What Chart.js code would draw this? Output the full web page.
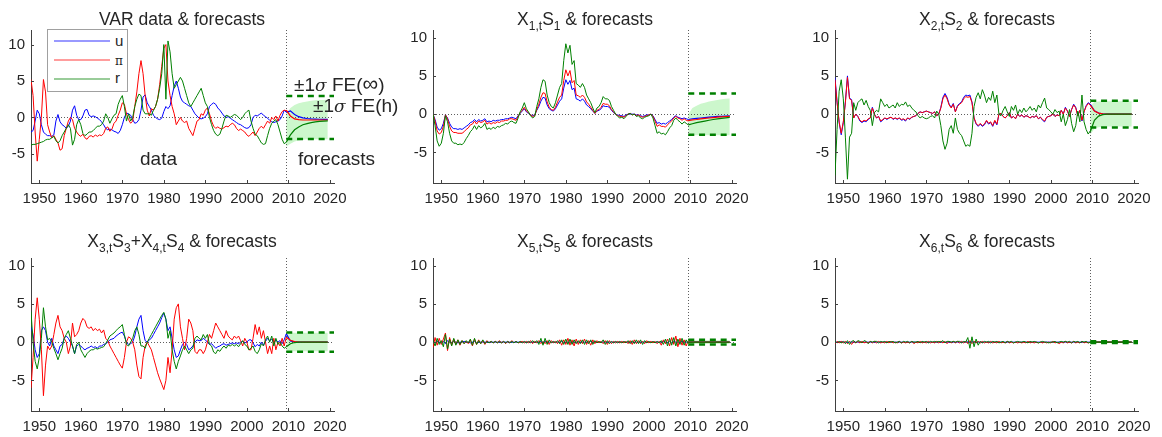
<!DOCTYPE html>
<html>
<head>
<meta charset="utf-8">
<script src="https://cdn.jsdelivr.net/npm/chart.js@4.4.1/dist/chart.umd.min.js"></script>
<style>
  html, body { margin: 0; padding: 0; background: #fff; }
  body { width: 1162px; height: 437px; position: relative; overflow: hidden; font-family: "Liberation Sans", Arial, sans-serif; color: #262626; }
  canvas { position: absolute; }
  .ttl { position: absolute; font-size: 17.5px; line-height: 20px; white-space: nowrap; transform: translateX(-50%); z-index: 5; }
  .ttl sub { font-size: 12px; vertical-align: -5px; line-height: 0; }
  .note { position: absolute; font-size: 19px; line-height: 22px; white-space: nowrap; z-index: 5; }
  .note i { font-family: "DejaVu Serif", serif; font-size: 17px; }
  .note .inf { font-size: 22px; }
  #legend { position: absolute; left: 47px; top: 29px; width: 79px; height: 61px; border: 1px solid #a0a0a0; background: #fff; z-index: 6; }
  #legend .ln { position: absolute; left: 6px; width: 56px; height: 0; border-top: 2px solid; }
  #legend .lb { position: absolute; left: 67px; font-size: 15px; line-height: 18px; }
</style>
</head>
<body>

<div class="ttl" style="left:182px; top:9px">VAR data &amp; forecasts</div>
<div class="ttl" style="left:585px; top:9px">X<sub>1,t</sub>S<sub>1</sub> &amp; forecasts</div>
<div class="ttl" style="left:987px; top:9px">X<sub>2,t</sub>S<sub>2</sub> &amp; forecasts</div>
<div class="ttl" style="left:182px; top:231px">X<sub>3,t</sub>S<sub>3</sub>+X<sub>4,t</sub>S<sub>4</sub> &amp; forecasts</div>
<div class="ttl" style="left:585px; top:231px">X<sub>5,t</sub>S<sub>5</sub> &amp; forecasts</div>
<div class="ttl" style="left:987px; top:231px">X<sub>6,t</sub>S<sub>6</sub> &amp; forecasts</div>

<div class="note" style="left:140px; top:148px">data</div>
<div class="note" style="left:298px; top:148px">forecasts</div>
<div class="note" style="left:294px; top:73px">±1<i>σ</i> FE(<span class="inf">∞</span>)</div>
<div class="note" style="left:313px; top:95px">±1<i>σ</i> FE(h)</div>

<div id="legend">
  <div class="ln" style="top:10px; border-color:#9999ff"></div><div class="lb" style="top:2px">u</div>
  <div class="ln" style="top:29px; border-color:#ff9d9d"></div><div class="lb" style="top:22px; font-family:'DejaVu Serif',serif; font-size:12px">π</div>
  <div class="ln" style="top:48px; border-color:#99cc99"></div><div class="lb" style="top:39px">r</div>
</div>

<script>
// time axis: half-yearly data 1948.0 .. 2009.5, yearly forecasts 2009.5 .. 2019.5
const tData = [];
for (let k = 0; k < 124; k++) tData.push(1948 + k / 2);
const tFc = [];
for (let k = 0; k < 11; k++) tFc.push(2009.5 + k);

const xMin = 1948, xMax = 2021;
const xTicks = [1950, 1960, 1970, 1980, 1990, 2000, 2010, 2020];
const yTicks = [-5, 0, 5, 10];

// ---- panel 1: VAR data
const u1 = [
  -2.0, -1.8, -0.5, 1.0, 0.5, -1.0, -2.0, -2.3, -2.5, -2.5,
  -2.6, -2.4, -0.5, 0.4, -0.6, -1.0, -1.2, -1.5, -1.2, -0.5,
  1.0, 1.6, 0.3, -0.3, -0.3, 0.2, 1.0, 1.1, 0.3, 0.1,
  0.2, 0.1, -0.1, -0.3, -0.6, -1.0, -1.5, -1.7, -1.6, -1.7,
  -1.9, -2.0, -2.2, -1.8, -1.0, 0.0, 0.6, 0.5, 0.3, -0.3,
  -0.8, -0.7, -0.3, 1.0, 2.8, 3.1, 2.0, 1.5, 1.0, 0.3,
  0.0, -0.2, -0.3, -0.1, 0.8, 1.5, 1.2, 1.6, 3.0, 4.3,
  5.0, 4.0, 2.8, 2.2, 2.0, 1.8, 1.6, 1.5, 1.0, 0.5,
  0.2, -0.1, -0.2, -0.1, 0.1, 0.5, 1.5, 1.8, 2.0, 1.8,
  1.3, 1.0, 0.6, 0.2, 0.0, 0.1, -0.1, -0.3, -0.5, -0.7,
  -0.9, -1.0, -1.2, -1.4, -1.5, -1.4, -1.0, 0.0, 0.3, 0.2,
  0.4, 0.6, 0.3, 0.1, -0.1, -0.4, -0.6, -0.7, -0.6, -0.5,
  -0.3, 0.2, 1.0, 0.7
];
const pi1 = [
  5.2, 3.0, -2.0, -6.0, -3.0, 0.0, 5.2, 3.5, -1.0, -2.0,
  -2.8, -2.5, -3.0, -3.5, -4.5, -4.3, -2.5, -1.5, -0.5, 0.0,
  -0.3, -1.5, -2.0, -2.4, -2.6, -2.3, -2.8, -3.0, -2.6, -2.5,
  -2.7, -2.4, -2.6, -2.4, -2.5, -2.2, -1.5, -1.3, -1.9, -1.6,
  -0.8, -0.5, 0.3, 1.0, 2.0, 1.8, 0.5, -0.3, -0.8, -0.5,
  1.5, 3.5, 6.0, 7.8, 6.0, 3.0, 1.0, 0.2, 1.2, 1.0,
  1.5, 2.5, 4.5, 7.0, 9.5, 10.0, 5.0, 3.0, 1.5, 0.5,
  -1.0, -0.5, 0.0, -0.5, -0.7, -0.5, -1.5, -2.0, -2.5, -1.5,
  -0.5, -0.3, 0.5, 0.3, 1.0, 1.3, 0.5, -0.5, -1.2, -1.5,
  -1.3, -1.5, -1.6, -1.4, -1.2, -1.3, -1.0, -0.8, -1.0, -1.5,
  -1.8, -1.6, -1.8, -2.0, -2.4, -2.6, -2.3, -2.0, -2.5, -2.0,
  -1.5, -1.2, -1.5, -1.0, -0.5, -0.8, 0.0, -0.3, 0.2, -0.5,
  0.3, 0.8, 1.0, 0.9
];
const r1 = [
  -3.8, -3.7, -3.7, -3.6, -3.5, -3.4, -3.3, -3.1, -3.0, -3.0,
  -2.8, -2.6, -3.2, -3.5, -3.2, -2.5, -2.0, -1.5, -1.0, -1.5,
  -3.8, -3.0, -1.0, -0.3, -1.0, -2.2, -2.5, -2.3, -2.0, -2.0,
  -1.8, -1.5, -1.2, -1.2, -1.0, -0.5, 0.5, 0.0, -0.8, -0.2,
  0.3, 0.5, 1.8, 2.5, 3.0, 1.5, -0.5, 0.5, -0.5, 0.0,
  1.5, 2.5, 3.2, 3.0, 1.0, 0.5, 0.5, 0.5, 0.3, 1.0,
  1.5, 2.5, 4.0, 6.0, 10.0, 2.5, 10.5, 9.0, 6.0, 4.0,
  4.5, 5.0, 5.5, 5.0, 4.0, 3.0, 2.0, 1.5, 2.0, 2.5,
  3.0, 3.5, 4.0, 3.0, 2.0, 1.5, 0.0, -1.0, -1.8, -2.3,
  -2.5, -2.3, -1.5, -0.5, 0.3, 0.2, 0.0, 0.2, 0.4, 0.3,
  0.0, -0.3, 0.0, 0.5, 0.8, 1.0, -0.5, -1.5, -2.3, -2.5,
  -3.0, -3.5, -3.7, -3.6, -2.5, -1.5, -0.8, -0.5, -0.3, -1.0,
  -2.0, -3.0, -3.6, -3.4
];
const u1f  = [0.7, 0.9, 0.4, 0.1, -0.05, -0.15, -0.2, -0.22, -0.25, -0.27, -0.27];
const pi1f = [1.0, 0.2, -0.2, -0.3, -0.35, -0.35, -0.35, -0.35, -0.35, -0.35, -0.35];
const r1f  = [-3.4, -2.4, -1.7, -1.3, -1.0, -0.85, -0.72, -0.62, -0.55, -0.5, -0.47];
const hi1  = [0.5, 1.3, 1.7, 1.95, 2.1, 2.2, 2.3, 2.35, 2.4, 2.4, 2.45];
const lo1  = [-4.0, -3.6, -3.3, -3.15, -3.05, -3.0, -3.0, -3.0, -3.0, -3.0, -3.0];

// ---- panel 2: X1,t S1
const u2 = [
  0.0, -0.7, -1.7, -2.1, -1.9, -1.2, -0.1, -0.5, -1.2, -1.7,
  -1.9, -1.9, -2.0, -1.9, -2.0, -1.8, -1.6, -1.4, -1.1, -1.0,
  -0.7, -1.0, -0.7, -0.9, -0.8, -0.6, -1.0, -0.9, -1.0, -0.8,
  -0.9, -0.8, -0.8, -0.7, -0.7, -0.6, -0.6, -0.5, -0.4, -0.5,
  -0.6, -0.2, 0.1, 0.4, 0.7, 0.3, 0.1, -0.1, -0.2, -0.1,
  0.5, 1.0, 1.7, 2.2, 2.1, 1.2, 0.7, 0.5, 0.4, 0.7,
  1.2, 1.7, 2.0, 3.4, 4.5, 3.9, 4.4, 3.2, 3.4, 2.0,
  1.9, 1.7, 2.0, 1.7, 1.2, 1.0, 0.7, 0.4, 0.1, 0.4,
  0.5, 0.7, 1.1, 1.0, 1.0, 0.9, 0.5, 0.2, 0.0, -0.1,
  -0.2, -0.2, -0.3, -0.1, 0.0, 0.0, 0.0, 0.0, -0.1, -0.1,
  -0.2, -0.3, -0.2, -0.1, -0.1, 0.0, -0.2, -0.7, -1.2, -1.1,
  -1.3, -1.2, -1.3, -1.1, -0.9, -0.7, -0.4, -0.2, -0.4, -0.5,
  -0.6, -0.5, -0.6, -0.7
];
const pi2 = [
  0.0, -0.9, -2.2, -2.6, -2.4, -1.6, -0.1, -0.6, -1.6, -2.2,
  -2.4, -2.4, -2.5, -2.5, -2.5, -2.3, -2.0, -1.8, -1.4, -1.3,
  -0.9, -1.3, -0.9, -1.1, -1.0, -0.8, -1.3, -1.1, -1.3, -1.1,
  -1.2, -1.0, -1.1, -0.9, -0.9, -0.8, -0.8, -0.6, -0.6, -0.7,
  -0.8, -0.3, 0.2, 0.5, 0.9, 0.4, 0.2, -0.1, -0.3, -0.2,
  0.6, 1.3, 2.2, 2.8, 2.7, 1.6, 0.9, 0.6, 0.5, 0.9,
  1.6, 2.2, 2.5, 4.4, 5.8, 5.0, 5.7, 4.1, 4.4, 2.5,
  2.4, 2.2, 2.5, 2.2, 1.6, 1.3, 0.9, 0.5, 0.1, 0.5,
  0.6, 0.9, 1.4, 1.3, 1.3, 1.1, 0.6, 0.3, 0.0, -0.2,
  -0.3, -0.3, -0.4, -0.2, 0.0, 0.1, -0.1, 0.0, -0.2, -0.1,
  -0.3, -0.4, -0.3, -0.2, -0.1, 0.0, -0.3, -0.9, -1.6, -1.4,
  -1.6, -1.6, -1.7, -1.4, -1.1, -0.9, -0.5, -0.3, -0.5, -0.6,
  -0.8, -0.6, -0.8, -0.9
];
const r2 = [
  0.0, -1.5, -3.5, -4.2, -3.8, -2.5, -0.2, -1.0, -2.5, -3.5,
  -3.8, -3.8, -4.0, -3.9, -4.0, -3.7, -3.2, -2.8, -2.3, -2.0,
  -1.5, -2.0, -1.5, -1.8, -1.6, -1.2, -2.0, -1.8, -2.0, -1.7,
  -1.9, -1.6, -1.7, -1.5, -1.4, -1.2, -1.3, -1.0, -0.9, -1.1,
  -1.2, -0.5, 0.3, 0.8, 1.5, 0.7, 0.3, -0.2, -0.5, -0.3,
  1.0, 2.0, 3.5, 4.5, 4.3, 2.5, 1.5, 1.0, 0.8, 1.5,
  2.5, 3.5, 4.0, 7.0, 9.2, 8.0, 9.0, 6.5, 7.0, 4.0,
  3.8, 3.5, 4.0, 3.5, 2.5, 2.0, 1.5, 0.8, 0.2, 0.8,
  1.0, 1.5, 2.3, 2.0, 2.0, 1.8, 1.0, 0.5, 0.0, -0.3,
  -0.5, -0.4, -0.6, -0.3, 0.0, 0.1, -0.1, 0.0, -0.3, -0.2,
  -0.5, -0.6, -0.4, -0.3, -0.2, 0.0, -0.5, -1.5, -2.5, -2.3,
  -2.6, -2.5, -2.7, -2.3, -1.8, -1.5, -0.8, -0.5, -0.8, -1.0,
  -1.3, -1.0, -1.2, -1.4
];
const u2f  = [-0.7, -0.6, -0.55, -0.5, -0.45, -0.4, -0.35, -0.3, -0.28, -0.25, -0.22];
const pi2f = [-0.85, -0.75, -0.7, -0.62, -0.55, -0.5, -0.45, -0.4, -0.36, -0.32, -0.28];
const r2f  = [-1.4, -1.25, -1.1, -1.0, -0.9, -0.8, -0.7, -0.62, -0.55, -0.48, -0.42];
const hi2  = [0.0, 0.8, 1.1, 1.35, 1.5, 1.65, 1.75, 1.85, 1.95, 2.0, 2.05];
const lo2  = [-2.75, -2.75, -2.75, -2.75, -2.75, -2.75, -2.75, -2.75, -2.75, -2.75, -2.75];

// ---- panel 3: X2,t S2
const u3 = [
  4.8, 1.6, -1.1, -2.7, -1.1, 1.6, 5.0, 2.1, 1.9, -0.5,
  0.0, -0.3, -0.9, -1.1, -0.9, -1.0, -0.7, -0.5, 0.9, 0.0,
  -0.5, -0.3, -1.0, -0.8, -0.5, -0.7, -0.5, -0.4, -0.7, -0.5,
  -0.7, -0.5, -0.8, -0.7, -0.9, -0.5, -0.7, -0.4, -0.3, -0.2,
  0.1, 0.3, 0.2, 0.3, 0.4, 0.3, 0.2, 0.1, 0.3, -0.2,
  0.0, 0.9, 2.2, 2.7, 2.2, 1.3, 0.9, 1.4, 0.3, 1.1,
  1.4, 1.6, 2.2, 2.5, 2.4, 2.5, 1.6, -0.5, -1.3, -1.6,
  -1.3, -1.6, -1.4, -0.9, -1.3, -1.1, -1.6, -0.9, -1.4, 0.0,
  0.1, -0.3, -0.5, -0.2, 0.2, -0.5, -0.3, -0.6, 0.0, -0.3,
  -0.1, -0.4, -0.2, -0.3, -0.5, -0.3, -0.4, -0.2, -0.6, -0.4,
  -0.8, -1.0, -0.4, -0.3, -0.2, 0.0, -0.3, -0.1, -0.2, 0.5,
  0.0, 0.9, 0.4, -0.3, 0.6, 1.3, 0.9, -0.2, 0.5, -0.9,
  0.3, 1.1, 1.5, 1.3
];
const pi3 = [
  4.5, 1.5, -1.0, -2.5, -1.0, 1.5, 4.8, 2.0, 1.8, -0.5,
  0.0, -0.3, -0.8, -1.0, -0.8, -0.9, -0.6, -0.5, 0.8, 0.0,
  -0.5, -0.3, -0.9, -0.7, -0.5, -0.6, -0.5, -0.4, -0.6, -0.5,
  -0.6, -0.5, -0.7, -0.6, -0.8, -0.5, -0.6, -0.4, -0.3, -0.2,
  0.1, 0.3, 0.2, 0.3, 0.4, 0.3, 0.2, 0.1, 0.3, -0.2,
  0.0, 0.8, 2.0, 2.5, 2.0, 1.2, 0.8, 1.3, 0.3, 1.0,
  1.3, 1.5, 2.0, 2.3, 2.2, 2.3, 1.5, -0.5, -1.2, -1.5,
  -1.2, -1.5, -1.3, -0.8, -1.2, -1.0, -1.5, -0.8, -1.3, 0.0,
  0.1, -0.3, -0.5, -0.2, 0.2, -0.5, -0.3, -0.6, 0.0, -0.3,
  -0.1, -0.4, -0.2, -0.3, -0.5, -0.3, -0.4, -0.2, -0.6, -0.4,
  -0.7, -0.9, -0.4, -0.3, -0.2, 0.0, -0.3, -0.1, -0.2, 0.5,
  0.0, 0.8, 0.4, -0.3, 0.6, 1.2, 0.8, -0.2, 0.5, -0.8,
  0.3, 1.0, 1.4, 1.2
];
const r3 = [
  -8.0, -2.0, 3.0, 4.5, 2.0, -3.0, -8.5, -3.0, -2.5, 1.5,
  0.5, 1.5, 1.8, 2.0, 1.2, 1.8, 1.0, 0.5, -1.5, 0.2,
  0.5, 0.3, 2.0, 1.5, 1.0, 1.3, 0.8, 1.0, 1.2, 0.8,
  1.5, 1.0, 1.3, 1.2, 1.6, 1.0, 1.2, 0.8, 0.5, 0.3,
  -0.2, -0.5, -0.3, -0.5, -0.6, -0.5, -0.3, -0.2, -0.5, 0.4,
  0.0, -1.5, -3.5, -4.6, -3.8, -2.0, -1.5, -2.5, -0.5, -2.0,
  -2.5, -2.8, -3.5, -4.2, -4.0, -4.2, -2.5, 1.0, 2.2, 2.8,
  2.0, 3.2, 2.5, 1.5, 2.2, 1.8, 3.0, 1.5, 2.5, 0.0,
  -0.2, 0.5, 1.0, 0.3, -0.3, 1.0, 0.5, 1.2, 0.0, 0.6,
  0.2, 0.8, 0.3, 0.6, 1.0, 0.5, 0.8, 0.3, 1.2, 0.8,
  1.5, 2.1, 0.8, 0.6, 0.3, 0.0, 0.6, 0.2, 0.4, -1.0,
  0.0, -1.5, -0.7, 0.6, -1.2, -2.3, -1.5, 0.4, -1.0, 2.5,
  -1.0, -2.0, -2.6, -2.2
];
const u3f  = [1.3, 0.45, 0.15, 0.04, 0.0, 0.0, 0.0, 0.0, 0.0, 0.0, 0.0];
const pi3f = [1.2, 0.42, 0.14, 0.04, 0.0, 0.0, 0.0, 0.0, 0.0, 0.0, 0.0];
const r3f  = [-2.3, -0.8, -0.25, -0.07, 0.0, 0.0, 0.0, 0.0, 0.0, 0.0, 0.0];
const hi3  = [1.0, 1.6, 1.65, 1.68, 1.7, 1.7, 1.7, 1.7, 1.7, 1.7, 1.7];
const lo3  = [-2.7, -1.9, -1.7, -1.65, -1.62, -1.62, -1.62, -1.62, -1.62, -1.62, -1.62];

// ---- panel 4: X3,t S3 + X4,t S4
const u4 = [
  2.0, 1.0, -1.0, -2.0, -1.5, 1.5, 2.0, 1.5, 0.0, -0.5,
  0.5, -0.5, -1.0, -1.5, -0.5, -0.3, 0.5, 0.8, 0.5, 0.0,
  -0.5, -1.5, -0.5, -0.3, -0.5, -0.8, -1.0, -0.8, -0.7, -0.5,
  -0.7, -0.6, -0.8, -0.5, -0.5, -0.3, -0.2, 0.0, 0.3, 0.4,
  0.5, 0.8, 1.0, 1.2, 1.3, 0.8, 0.0, -0.3, -0.2, 0.0,
  0.8, 2.0, 3.0, 3.5, 1.5, 0.2, 0.0, 0.3, 0.5, 1.0,
  1.5, 2.0, 2.5, 3.2, 3.8, 3.0, 1.5, 2.0, 0.5, -1.0,
  -2.0, -1.8, -1.0, -0.3, 0.0, -0.3, -1.0, -0.8, -0.5, 0.0,
  0.3, 0.2, 0.2, 0.5, 0.3, 0.0, -0.3, -0.2, -0.5, -0.8,
  -0.6, -0.5, -0.3, -0.2, -0.4, -0.3, -0.2, -0.1, -0.2, -0.1,
  -0.2, 0.0, 0.1, -0.1, 0.0, 0.3, 0.3, -0.1, -0.6, -0.3,
  -0.5, 0.0, -0.4, 0.1, 0.5, 0.2, 0.4, -0.1, 0.3, 0.0,
  0.2, -0.2, 0.3, 1.1
];
const pi4 = [
  -6.0, -2.0, 3.0, 5.8, 3.0, -1.0, -7.0, -3.0, -0.5, -1.0,
  -0.5, 1.0, 2.5, 3.5, 2.0, 1.5, 0.5, 0.0, -1.5, -0.5,
  2.5, 0.7, 1.0, 1.5, 2.5, 3.1, 2.8, 2.0, 1.8, 2.0,
  1.5, 1.8, 1.5, 1.7, 1.2, 1.6, 0.5, 0.2, -0.5, -1.0,
  -1.5, -2.0, -2.5, -3.0, -3.4, -2.0, 0.0, 0.7, 0.5, 0.0,
  -1.0, -3.0, -4.5, -4.8, -2.0, -0.5, 0.0, -0.5, -1.0, -2.0,
  -3.0, -4.0, -4.8, -5.5, -6.2, -5.0, -2.0, -4.0, -1.0, 3.0,
  4.5, 5.0, 2.0, 0.5, -1.0, 0.5, 3.0, 2.5, 1.5, -1.2,
  -1.5, -1.0, -1.0, -1.5, -1.0, 0.0, 1.0, 0.5, 1.5, 2.5,
  2.0, 1.5, 1.0, 0.5, 1.5, 0.8, 0.5, 0.3, 0.8, 0.5,
  0.8, 0.2, -0.5, 0.5, 0.0, -1.0, -1.0, 0.5, 2.3, 1.0,
  2.0, 0.5, 1.5, 0.0, -1.5, -0.5, -1.5, 0.5, -1.0, 0.0,
  -0.5, 0.5, -0.5, 0.65
];
const r4 = [
  4.0, 0.0, -2.5, -3.5, -2.0, 0.5, 4.5, 2.0, 0.3, 0.5,
  0.0, -0.8, -1.5, -2.3, -1.5, -0.8, 0.5, 1.0, 1.5, 0.5,
  -0.5, -1.5, -0.3, 0.0, -1.0, -1.5, -2.0, -1.5, -1.2, -1.0,
  -1.0, -0.8, -0.9, -0.8, -0.7, -0.6, -0.2, 0.3, 0.8, 1.0,
  1.2, 1.5, 1.8, 2.0, 2.3, 1.0, -0.3, -0.5, 0.0, 0.5,
  1.5, 2.0, 1.0, -0.5, -0.5, -0.8, 0.0, 0.5, 1.0, 1.5,
  2.0, 2.5, 3.0, 3.5, 3.9, 3.0, 0.5, 1.5, -1.0, -2.5,
  -3.5, -2.5, -1.8, -1.0, -0.5, -1.0, -1.5, -1.0, -0.8, 0.5,
  0.8, 0.5, 0.3, 1.0, 0.5, 1.0, -0.3, -0.5, -1.3, -1.5,
  -1.0, -1.2, -0.8, -0.5, -0.8, -0.4, -0.5, -0.3, -0.5, -0.3,
  -0.6, -0.2, 0.2, -0.3, -0.5, -1.0, -0.8, -0.5, -1.2, -1.5,
  -1.0, -0.2, -0.5, 0.3, 0.8, 0.0, 0.8, -0.5, 0.5, -0.3,
  0.0, -0.5, -0.8, -0.6
];
const u4f  = [1.1, 0.15, 0.03, 0.0, 0.0, 0.0, 0.0, 0.0, 0.0, 0.0, 0.0];
const pi4f = [0.65, 0.25, 0.08, 0.02, 0.0, 0.0, 0.0, 0.0, 0.0, 0.0, 0.0];
const r4f  = [-0.6, -0.2, -0.05, 0.0, 0.0, 0.0, 0.0, 0.0, 0.0, 0.0, 0.0];
const hi4  = [1.22, 1.22, 1.22, 1.22, 1.22, 1.22, 1.22, 1.22, 1.22, 1.22, 1.22];
const lo4  = [-1.2, -1.2, -1.2, -1.2, -1.2, -1.2, -1.2, -1.2, -1.2, -1.2, -1.2];

// ---- panel 5: X5,t S5
const u5 = [
  0.1, -0.1, 0.1, 0.0, -0.1, 0.1, -0.2, 0.2, 0.0, -0.1,
  0.1, 0.0, -0.1, 0.0, 0.0, 0.1, 0.0, 0.0, -0.1, 0.0,
  0.1, -0.1, 0.0, 0.0, 0.0, 0.0, 0.0, 0.0, 0.0, 0.0,
  0.0, 0.0, 0.0, 0.0, 0.0, 0.0, 0.0, 0.0, 0.0, 0.0,
  0.0, 0.0, 0.0, 0.0, 0.0, 0.0, 0.0, 0.0, 0.0, 0.0,
  0.0, 0.0, 0.1, -0.1, 0.1, -0.1, 0.0, 0.0, 0.0, 0.0,
  0.0, 0.0, 0.1, -0.1, 0.0, 0.0, 0.0, 0.0, 0.0, 0.0,
  0.0, 0.0, 0.0, 0.0, 0.0, 0.0, 0.1, 0.0, 0.0, 0.0,
  0.0, 0.0, 0.0, 0.0, 0.0, 0.0, 0.0, 0.0, 0.0, 0.0,
  0.0, 0.0, 0.0, 0.0, 0.0, 0.0, 0.0, 0.0, 0.0, 0.0,
  0.0, 0.0, 0.0, 0.0, 0.0, 0.0, 0.0, 0.0, 0.0, 0.0,
  0.0, 0.1, 0.0, -0.1, 0.1, -0.1, 0.1, 0.0, 0.0, 0.0,
  0.1, 0.0, 0.0, 0.0
];
const pi5 = [
  -0.7, 0.6, -0.4, 0.5, -0.3, 0.4, 1.2, -1.1, 0.6, -0.4,
  0.4, -0.3, 0.3, -0.4, 0.2, -0.2, 0.1, -0.2, 0.3, -0.5,
  0.4, -0.3, 0.3, -0.2, 0.2, -0.3, 0.2, -0.1, 0.1, -0.1,
  0.1, -0.1, 0.2, -0.1, 0.1, -0.2, 0.1, -0.1, 0.2, -0.1,
  0.1, -0.1, 0.0, 0.1, -0.1, 0.1, -0.1, 0.2, -0.2, 0.1,
  -0.1, 0.2, -0.2, 0.1, -0.2, 0.2, -0.3, 0.2, -0.1, 0.1,
  -0.2, 0.3, -0.4, 0.3, -0.3, 0.5, -0.4, 0.3, -0.5, 0.4,
  -0.3, 0.3, -0.2, 0.4, -0.3, 0.2, -0.4, 0.3, -0.2, 0.2,
  -0.1, 0.1, -0.2, 0.2, -0.3, 0.2, -0.2, 0.1, -0.1, 0.1,
  -0.1, 0.1, -0.1, 0.1, -0.2, 0.2, -0.3, 0.3, -0.2, 0.2,
  -0.2, 0.1, -0.2, 0.2, -0.1, 0.1, -0.1, 0.1, -0.2, 0.1,
  -0.4, 0.3, -0.2, 0.4, -0.5, 0.6, -0.3, 0.8, -0.6, 0.5,
  -0.4, 0.3, -0.5, 0.2
];
const r5 = [
  0.2, -0.5, 0.5, -0.3, 0.2, -0.6, 1.0, -0.9, 0.4, -0.5,
  0.5, -0.4, 0.3, -0.3, 0.2, -0.2, 0.2, -0.1, 0.4, -0.4,
  0.5, -0.3, 0.2, -0.2, 0.3, -0.2, 0.1, -0.1, 0.1, -0.1,
  0.1, -0.1, 0.1, -0.1, 0.1, -0.1, 0.1, -0.1, 0.1, -0.1,
  0.1, -0.1, 0.1, -0.1, 0.1, -0.1, 0.1, -0.1, 0.2, -0.1,
  0.2, -0.3, 0.5, -0.4, 0.5, -0.3, 0.3, -0.1, 0.1, -0.1,
  0.2, -0.2, 0.3, -0.3, 0.4, -0.3, 0.4, -0.3, 0.3, -0.2,
  0.2, -0.2, 0.3, -0.3, 0.3, -0.2, 0.3, -0.3, 0.2, -0.1,
  0.1, -0.1, 0.3, -0.3, 0.2, -0.2, 0.1, -0.1, 0.1, -0.1,
  0.1, -0.1, 0.1, -0.1, 0.2, -0.2, 0.2, -0.2, 0.3, -0.2,
  0.3, -0.3, 0.2, -0.1, 0.1, -0.1, 0.1, -0.1, 0.1, -0.1,
  0.2, -0.3, 0.4, -0.5, 0.5, -0.4, 0.6, -0.5, 0.4, -0.3,
  0.5, -0.4, 0.3, -0.2
];
const zeroFc = [0, 0, 0, 0, 0, 0, 0, 0, 0, 0, 0];
const hi5 = [0.25, 0.25, 0.25, 0.25, 0.25, 0.25, 0.25, 0.25, 0.25, 0.25, 0.25];
const lo5 = [-0.25, -0.25, -0.25, -0.25, -0.25, -0.25, -0.25, -0.25, -0.25, -0.25, -0.25];

// ---- panel 6: X6,t S6
const u6 = [
  0.0, 0.0, 0.0, 0.05, 0.0, 0.0, -0.05, 0.0, 0.0, 0.0,
  0.0, 0.0, 0.0, 0.0, 0.0, 0.0, 0.0, 0.0, 0.0, 0.0,
  0.0, 0.0, 0.0, 0.0, 0.0, 0.0, 0.0, 0.0, 0.0, 0.0,
  0.0, 0.0, 0.0, 0.0, 0.0, 0.0, 0.0, 0.0, 0.0, 0.0,
  0.0, 0.0, 0.0, 0.0, 0.0, 0.0, 0.0, 0.0, 0.0, 0.0,
  0.0, 0.0, 0.0, 0.0, 0.0, 0.0, 0.0, 0.0, 0.0, 0.0,
  0.0, 0.0, 0.0, 0.0, 0.05, -0.05, 0.05, 0.0, 0.0, 0.0,
  0.0, 0.0, 0.0, 0.0, 0.0, 0.0, 0.0, 0.0, 0.0, 0.0,
  0.0, 0.0, 0.0, 0.0, 0.0, 0.0, 0.0, 0.0, 0.0, 0.0,
  0.0, 0.0, 0.0, 0.0, 0.0, 0.0, 0.0, 0.0, 0.0, 0.0,
  0.0, 0.0, 0.0, 0.0, 0.0, 0.0, 0.0, 0.0, 0.0, 0.0,
  0.0, 0.0, 0.0, 0.0, 0.0, 0.0, 0.0, 0.0, 0.0, 0.0,
  0.0, 0.0, 0.0, 0.0
];
const pi6 = [
  -0.2, 0.1, -0.1, 0.1, -0.1, 0.1, -0.2, 0.1, -0.3, 0.1,
  -0.1, 0.1, -0.1, 0.1, -0.1, 0.0, -0.1, 0.1, -0.1, 0.1,
  -0.1, 0.1, -0.1, 0.0, -0.1, 0.1, -0.1, 0.1, -0.1, 0.0,
  -0.1, 0.1, -0.1, 0.0, -0.1, 0.0, -0.1, 0.1, -0.2, 0.0,
  -0.1, 0.1, -0.1, 0.0, -0.1, 0.1, -0.1, 0.0, -0.1, 0.1,
  -0.1, 0.1, -0.1, 0.1, -0.2, 0.1, -0.1, 0.1, -0.1, 0.1,
  -0.1, 0.1, -0.1, 0.1, -0.2, 0.2, -0.2, 0.1, -0.1, 0.1,
  -0.1, 0.1, -0.1, 0.0, -0.1, 0.1, -0.1, 0.0, -0.1, 0.1,
  -0.1, 0.0, -0.1, 0.1, -0.1, 0.0, -0.1, 0.0, -0.1, 0.0,
  -0.1, 0.0, -0.1, 0.1, -0.1, 0.0, -0.1, 0.0, -0.1, 0.0,
  -0.1, 0.0, -0.1, 0.0, -0.1, 0.1, -0.1, 0.0, -0.2, 0.0,
  -0.1, 0.1, -0.1, 0.0, -0.1, 0.1, -0.1, 0.0, -0.1, 0.1,
  -0.1, 0.0, -0.1, 0.0
];
const r6 = [
  0.1, -0.1, 0.1, -0.1, 0.1, -0.2, 0.2, -0.3, 0.1, 0.2,
  -0.1, 0.2, 0.1, -0.1, 0.2, 0.1, -0.2, 0.1, 0.0, 0.1,
  0.1, -0.1, 0.1, 0.0, 0.1, -0.1, 0.1, 0.0, 0.1, -0.1,
  0.0, 0.1, -0.1, 0.1, 0.0, 0.1, -0.1, 0.1, 0.0, 0.0,
  0.1, -0.1, 0.1, 0.0, 0.1, -0.1, 0.1, 0.0, 0.1, 0.0,
  0.1, 0.0, 0.2, -0.1, 0.1, 0.1, 0.0, 0.1, 0.0, 0.1,
  0.1, -0.1, 0.1, 0.0, 0.6, -0.8, 0.7, -0.6, 0.4, -0.4,
  0.1, -0.1, 0.1, 0.0, 0.1, -0.1, 0.1, 0.0, 0.1, -0.1,
  0.0, 0.1, -0.1, 0.1, 0.0, 0.1, -0.1, 0.0, 0.1, 0.0,
  0.0, 0.1, 0.0, -0.1, 0.1, 0.0, 0.1, 0.0, -0.1, 0.0,
  0.1, 0.0, 0.0, -0.1, 0.0, 0.0, 0.1, -0.1, 0.0, 0.1,
  0.0, 0.1, 0.0, 0.1, -0.1, 0.1, 0.0, 0.1, -0.1, 0.1,
  0.0, 0.1, -0.1, 0.0
];
const hi6 = [0.08, 0.08, 0.08, 0.08, 0.08, 0.08, 0.08, 0.08, 0.08, 0.08, 0.08];
const lo6 = [-0.08, -0.08, -0.08, -0.08, -0.08, -0.08, -0.08, -0.08, -0.08, -0.08, -0.08];

// +-1 sigma FE(inf) levels per panel
const feInf = [2.95, 2.7, 1.75, 1.27, 0.3, 0.12];

const BLUE = '#0000ff', RED = '#ff0000', GREEN = '#008000', BAND = '#ccf7cc';
const AXIS = '#404040', TEXT = '#262626';
const FONT = '"Liberation Sans", Arial, sans-serif';

const panels = [
  { left: 31,  top: 30,  yMax: 12, u: u1, pi: pi1, r: r1, uf: u1f, pif: pi1f, rf: r1f, hi: hi1, lo: lo1, fe: feInf[0] },
  { left: 433, top: 30,  yMax: 11, u: u2, pi: pi2, r: r2, uf: u2f, pif: pi2f, rf: r2f, hi: hi2, lo: lo2, fe: feInf[1] },
  { left: 835, top: 30,  yMax: 11, u: u3, pi: pi3, r: r3, uf: u3f, pif: pi3f, rf: r3f, hi: hi3, lo: lo3, fe: feInf[2] },
  { left: 31,  top: 258, yMax: 11, u: u4, pi: pi4, r: r4, uf: u4f, pif: pi4f, rf: r4f, hi: hi4, lo: lo4, fe: feInf[3] },
  { left: 433, top: 258, yMax: 11, u: u5, pi: pi5, r: r5, uf: zeroFc, pif: zeroFc, rf: zeroFc, hi: hi5, lo: lo5, fe: feInf[4] },
  { left: 835, top: 258, yMax: 11, u: u6, pi: pi6, r: r6, uf: zeroFc, pif: zeroFc, rf: zeroFc, hi: hi6, lo: lo6, fe: feInf[5] }
];

const PLOT_W = 303, PLOT_H = 153, YAX_W = 31, XAX_H = 30, PAD_T = 16, PAD_R = 20;

const pts = (xs, ys) => ys.map((v, i) => ({ x: xs[i], y: v }));

// dotted zero line + forecast-start line (drawn right after the band), inward ticks
const matlabBits = {
  id: 'matlabBits',
  afterDatasetDraw(chart, args) {
    if (args.index !== 1) return;
    const { ctx, chartArea: a, scales: { x, y } } = chart;
    ctx.save();
    ctx.strokeStyle = 'rgba(40,40,40,0.75)';
    ctx.lineWidth = 1;
    ctx.setLineDash([1, 2]);
    const y0 = Math.round(y.getPixelForValue(0)) + 0.5;
    ctx.beginPath(); ctx.moveTo(a.left, y0); ctx.lineTo(a.right, y0); ctx.stroke();
    const xv = Math.round(x.getPixelForValue(tFc[0])) + 0.5;
    ctx.beginPath(); ctx.moveTo(xv, a.top); ctx.lineTo(xv, a.bottom); ctx.stroke();
    ctx.restore();
  },
  afterDraw(chart) {
    const { ctx, chartArea: a, scales: { x, y } } = chart;
    ctx.save();
    ctx.strokeStyle = AXIS;
    ctx.lineWidth = 1;
    ctx.beginPath();
    x.ticks.forEach(t => {
      const px = Math.round(x.getPixelForValue(t.value)) + 0.5;
      ctx.moveTo(px, a.bottom); ctx.lineTo(px, a.bottom - 3);
    });
    y.ticks.forEach(t => {
      const py = Math.round(y.getPixelForValue(t.value)) + 0.5;
      ctx.moveTo(a.left, py); ctx.lineTo(a.left + 3, py);
    });
    ctx.stroke();
    ctx.restore();
  }
};

panels.forEach((p, i) => {
  const cv = document.createElement('canvas');
  cv.width = YAX_W + PLOT_W + PAD_R;
  cv.height = PAD_T + PLOT_H + XAX_H;
  cv.style.left = (p.left - YAX_W) + 'px';
  cv.style.top = (p.top - PAD_T) + 'px';
  document.body.appendChild(cv);

  const line = (data, color, order, w) => ({
    data, borderColor: color, borderWidth: w || 1, pointRadius: 0, fill: false, order
  });
  const dash = (v) => ({
    data: pts([tFc[0], xMax], [v, v]), borderColor: GREEN, borderWidth: 2.5,
    borderDash: [6, 4.8], pointRadius: 0, fill: false, order: 0
  });

  new Chart(cv, {
    type: 'line',
    data: {
      datasets: [
        { data: pts(tFc, p.lo), borderWidth: 0, pointRadius: 0, fill: false, order: 10 },
        { data: pts(tFc, p.hi), borderWidth: 0, pointRadius: 0, fill: '-1', backgroundColor: BAND, order: 9 },
        line(pts(tData, p.u), BLUE, 8),
        line(pts(tData, p.pi), RED, 7),
        line(pts(tData, p.r), GREEN, 6),
        line(pts(tFc, p.uf), BLUE, 5, 1.2),
        line(pts(tFc, p.pif), RED, 4, 1.2),
        line(pts(tFc, p.rf), GREEN, 3, 1.2),
        dash(p.fe),
        dash(-p.fe)
      ]
    },
    options: {
      responsive: false,
      animation: false,
      events: [],
      elements: { line: { tension: 0 } },
      layout: { padding: { top: PAD_T, right: PAD_R, left: 0, bottom: 0 } },
      plugins: { legend: { display: false }, title: { display: false }, tooltip: { enabled: false } },
      scales: {
        x: {
          type: 'linear', min: xMin, max: xMax,
          grid: { display: false, drawTicks: false },
          border: { display: true, color: AXIS, width: 1 },
          ticks: { color: TEXT, font: { family: FONT, size: 15 }, padding: 7, maxRotation: 0,
                   callback: v => String(v) },
          afterBuildTicks: s => { s.ticks = xTicks.map(v => ({ value: v })); },
          afterFit: s => { s.height = XAX_H; }
        },
        y: {
          min: -9, max: p.yMax,
          grid: { display: false, drawTicks: false },
          border: { display: true, color: AXIS, width: 1 },
          ticks: { color: TEXT, font: { family: FONT, size: 15 }, padding: 6,
                   callback: v => String(v) },
          afterBuildTicks: s => { s.ticks = yTicks.map(v => ({ value: v })); },
          afterFit: s => { s.width = YAX_W; }
        }
      }
    },
    plugins: [matlabBits]
  });
});
</script>
</body>
</html>
